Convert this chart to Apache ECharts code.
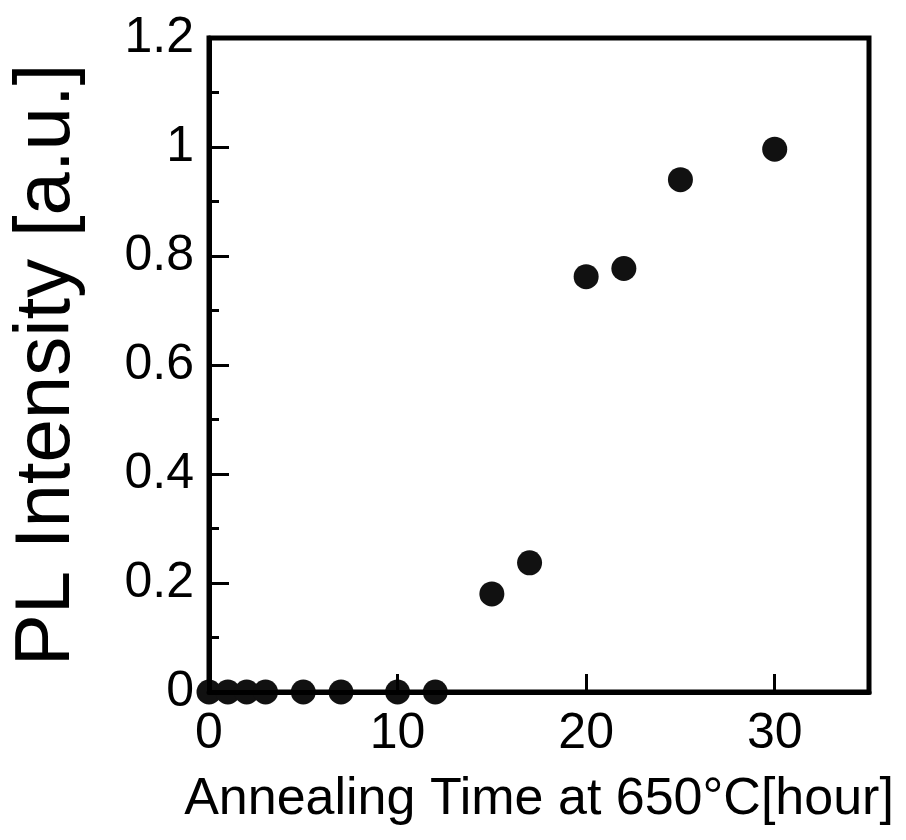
<!DOCTYPE html>
<html lang="en">

<head>
    <meta charset="UTF-8">
    <title>PL Intensity vs Annealing Time</title>
    <script src="https://cdn.jsdelivr.net/npm/echarts@6.0.0/dist/echarts.min.js"></script>
</head>

<body style="margin:0;background:#fff;">
    <div id="main" style="width: 906px;height:840px;"></div>

    <script type="text/javascript">
        // Annealing time (hour) and PL intensity (a.u.)
        let annealHours = [0, 1, 2, 3, 5, 7, 10, 12, 15, 17, 20, 22, 25, 30];
        let plIntensity = [0, 0, 0, 0, 0, 0, 0, 0, 0.18, 0.237, 0.762, 0.777, 0.94, 0.996];

        let points = annealHours.map((h, i) => [h, plIntensity[i]]);

        let myChart = echarts.init(document.getElementById('main'));

        let font = '"Liberation Sans", Arial, sans-serif';

        let options = {
            backgroundColor: '#fff',
            animation: false,
            grid: {
                left: 207, right: 37, top: 38, bottom: 148,
                show: true,
                borderColor: '#000',
                borderWidth: 5,
                backgroundColor: 'transparent'
            },
            xAxis: {
                type: 'value',
                min: 0, max: 35, interval: 10,
                z: 5,
                name: 'Annealing Time at 650°C[hour]',
                nameLocation: 'middle',
                nameGap: 82,
                nameTextStyle: { fontFamily: font, fontSize: 52, color: '#000' },
                axisLine: { show: true, lineStyle: { color: '#000', width: 5 } },
                axisTick: { show: true, inside: true, length: 18, lineStyle: { color: '#000', width: 3 } },
                axisLabel: {
                    showMaxLabel: false,
                    margin: 17,
                    fontFamily: font, fontSize: 50, color: '#000'
                },
                splitLine: { show: false }
            },
            yAxis: {
                type: 'value',
                min: 0, max: 1.2, interval: 0.2,
                z: 5,
                name: 'PL Intensity [a.u.]',
                nameLocation: 'middle',
                nameRotate: 90,
                nameGap: 123,
                nameTextStyle: { fontFamily: font, fontSize: 78, color: '#000' },
                axisLine: { show: true, lineStyle: { color: '#000', width: 5 } },
                axisTick: { show: true, inside: true, length: 20, lineStyle: { color: '#000', width: 3 } },
                minorTick: { show: true, splitNumber: 2, length: 10, lineStyle: { color: '#000', width: 3 } },
                axisLabel: {
                    margin: 15,
                    fontFamily: font, fontSize: 50, color: '#000'
                },
                splitLine: { show: false }
            },
            series: [{
                name: 'PL intensity',
                type: 'scatter',
                data: points,
                symbol: 'circle',
                symbolSize: 25,
                clip: false,
                itemStyle: { color: '#111', opacity: 1 }
            }]
        };

        myChart.setOption(options);
    </script>
</body>

</html>
